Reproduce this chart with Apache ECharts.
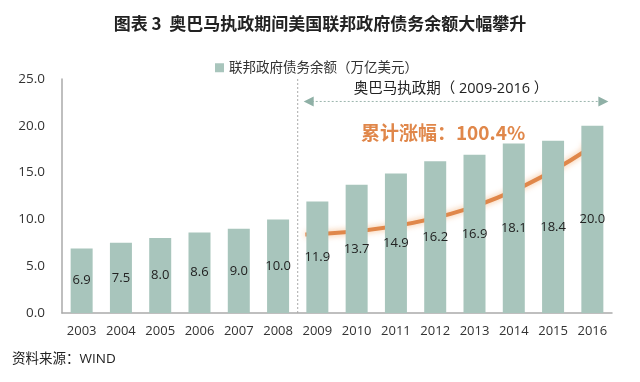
<!DOCTYPE html>
<html><head><meta charset="utf-8">
<script src="https://cdn.jsdelivr.net/npm/echarts@6/dist/echarts.min.js"></script>
<style>html,body{margin:0;padding:0;background:#fff}#c{width:640px;height:382px}</style>
</head><body><div id="c"></div>
<script>
var categories = ['2003','2004','2005','2006','2007','2008','2009','2010','2011','2012','2013','2014','2015','2016'];
var debtValues = [6.9,7.5,8.0,8.6,9.0,10.0,11.9,13.7,14.9,16.2,16.9,18.1,18.4,20.0];
var yTicks = [0,5,10,15,20,25];
var seriesName = '联邦政府债务余额（万亿美元）';
var FONT = "'Open Sans','Noto Sans CJK SC',sans-serif";
var barColor = '#a8c5bc';
var orange = '#e0874a';

var chart = echarts.init(document.getElementById('c'));
chart.setOption({
  animation:false,
  textStyle:{fontFamily:FONT},
  title:{text:'图表 3  奥巴马执政期间美国联邦政府债务余额大幅攀升',left:'center',top:10,
    textStyle:{fontFamily:"'Noto Sans CJK SC',sans-serif",fontSize:17,fontWeight:'bold',color:'#222'}},
  legend:{data:[seriesName],top:56,left:210,itemWidth:9,itemHeight:9,itemGap:6,icon:'rect',
    textStyle:{fontFamily:FONT,fontSize:13.5,color:'#333'}},
  grid:{left:62,right:28,top:79,bottom:69},
  xAxis:{type:'category',data:categories,
    axisLine:{lineStyle:{color:'#aaa',width:1.5}},axisTick:{show:false},
    axisLabel:{interval:0,fontSize:13,color:'#333',margin:12,fontFamily:FONT}},
  yAxis:{type:'value',min:0,max:25,interval:5,
    axisLine:{show:true,lineStyle:{color:'#aaa',width:1.5}},axisTick:{show:false},splitLine:{show:false},
    axisLabel:{fontSize:13.5,color:'#333',margin:17,fontFamily:FONT,formatter:function(v){return v.toFixed(1);}}},
  series:[{name:seriesName,type:'bar',data:debtValues,barWidth:22,
    itemStyle:{color:barColor},
    label:{show:true,position:'inside',fontSize:13,color:'#222',fontFamily:FONT,
      formatter:function(p){return p.value.toFixed(1);}}}]
});

function px(idx,val){return chart.convertToPixel({xAxisIndex:0,yAxisIndex:0},[idx,val]);}
var p0=px(0,0), p1=px(1,0);
var step=p1[0]-p0[0];
var sepX=px(5,0)[0]+step/2;
var topY=px(0,25)[1], baseY=p0[1];
var lastX=px(13,0)[0];
var arrowY=px(0,22.6)[1];
var s=px(6,8.4); s[0]-=12;
var e=px(13,17.8);
var c1=px(9,8.8), c2=px(11,12.3);
var dx=e[0]-c2[0], dy=e[1]-c2[1], L=Math.sqrt(dx*dx+dy*dy); dx/=L; dy/=L;
var hl=14, hw=7;
var tip=[e[0]+dx*6,e[1]+dy*6];
var bx=tip[0]-dx*hl, by=tip[1]-dy*hl;
chart.setOption({graphic:[
  {type:'line',shape:{x1:sepX,y1:topY,x2:sepX,y2:baseY},style:{stroke:'#aaa',lineWidth:1,lineDash:[2,2]}},
  {type:'line',shape:{x1:sepX+14,y1:arrowY,x2:lastX+8,y2:arrowY},style:{stroke:'#9bb5ad',lineWidth:1,lineDash:[2,2]}},
  {type:'polygon',shape:{points:[[sepX+6,arrowY],[sepX+16,arrowY-5],[sepX+16,arrowY+5]]},style:{fill:'#8fb0a6'}},
  {type:'polygon',shape:{points:[[lastX+16,arrowY],[lastX+6,arrowY-5],[lastX+6,arrowY+5]]},style:{fill:'#8fb0a6'}},
  {type:'text',x:(sepX+lastX+12)/2,y:arrowY-5,style:{text:'奥巴马执政期（ 2009-2016 ）',fontFamily:FONT,fontSize:14.5,fill:'#222',align:'center',verticalAlign:'bottom'}},
  {type:'text',x:(sepX+lastX)/2-2,y:px(0,19.3)[1],style:{text:'累计涨幅：100.4%',fontFamily:"'Noto Sans CJK SC',sans-serif",fontSize:19,fontWeight:'bold',fill:orange,align:'center',verticalAlign:'middle'}},
  {type:'bezierCurve',shape:{x1:s[0],y1:s[1],cpx1:c1[0],cpy1:c1[1],cpx2:c2[0],cpy2:c2[1],x2:bx,y2:by},
    style:{stroke:orange,lineWidth:4,fill:null,shadowBlur:6,shadowColor:'rgba(240,170,110,0.8)'}},
  {type:'polygon',shape:{points:[tip,[bx-dy*hw,by+dx*hw],[bx+dy*hw,by-dx*hw]]},style:{fill:orange,shadowBlur:6,shadowColor:'rgba(240,170,110,0.8)'}},
  {type:'text',left:12,top:352,style:{text:'资料来源：WIND',fontFamily:FONT,fontSize:13.5,fill:'#222'}}
]});
</script></body></html>
